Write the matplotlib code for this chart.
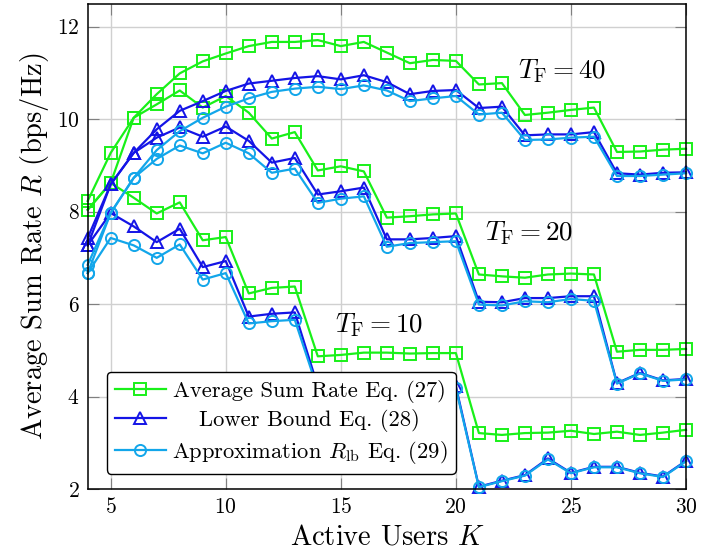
import matplotlib
matplotlib.use("Agg")
import matplotlib.pyplot as plt

plt.rcParams['font.family'] = ['cmr10', 'DejaVu Serif']
plt.rcParams['mathtext.fontset'] = 'cm'
plt.rcParams['axes.formatter.use_mathtext'] = True

K = list(range(4, 31))

# T_F = 40
avg_40 = [8.23, 9.27, 10.03, 10.54, 10.99, 11.25, 11.42, 11.58, 11.67, 11.67, 11.71, 11.58, 11.67, 11.44,
          11.21, 11.28, 11.26, 10.75, 10.78, 10.09, 10.14, 10.20, 10.25, 9.29, 9.30, 9.34, 9.36]
lb_40 = [7.43, 8.59, 9.27, 9.78, 10.18, 10.39, 10.61, 10.77, 10.83, 10.89, 10.93, 10.86, 10.95, 10.80,
         10.54, 10.61, 10.63, 10.24, 10.27, 9.65, 9.67, 9.67, 9.72, 8.83, 8.80, 8.84, 8.85]
apx_40 = [6.85, 7.97, 8.73, 9.33, 9.74, 10.03, 10.27, 10.45, 10.59, 10.66, 10.70, 10.65, 10.73, 10.62,
          10.39, 10.45, 10.50, 10.10, 10.14, 9.55, 9.56, 9.60, 9.62, 8.77, 8.77, 8.80, 8.83]

# T_F = 20
avg_20 = [8.04, 8.62, 10.03, 10.32, 10.62, 10.25, 10.50, 10.14, 9.58, 9.72, 8.89, 8.98, 8.87, 7.87,
          7.90, 7.94, 7.96, 6.64, 6.60, 6.57, 6.64, 6.66, 6.64, 4.97, 5.01, 5.01, 5.03]
lb_20 = [7.27, 8.59, 9.27, 9.60, 9.82, 9.62, 9.84, 9.53, 9.06, 9.16, 8.37, 8.44, 8.52, 7.40,
         7.40, 7.43, 7.47, 6.05, 6.04, 6.13, 6.13, 6.17, 6.17, 4.29, 4.51, 4.35, 4.38]
apx_20 = [6.67, 7.97, 8.73, 9.14, 9.43, 9.26, 9.49, 9.26, 8.84, 8.93, 8.19, 8.28, 8.33, 7.24,
          7.32, 7.34, 7.36, 5.99, 5.97, 6.06, 6.04, 6.11, 6.07, 4.28, 4.50, 4.34, 4.37]

# T_F = 10
avg_10 = [8.04, 8.62, 8.30, 7.96, 8.20, 7.38, 7.45, 6.23, 6.35, 6.38, 4.87, 4.90, 4.95, 4.95,
          4.93, 4.94, 4.94, 3.21, 3.17, 3.21, 3.22, 3.26, 3.19, 3.24, 3.17, 3.22, 3.28]
lb_10 = [7.27, 7.97, 7.68, 7.34, 7.63, 6.80, 6.93, 5.73, 5.79, 5.82, 4.22, 4.25, 4.28, 4.26,
         4.24, 4.25, 4.22, 2.05, 2.18, 2.30, 2.66, 2.35, 2.48, 2.48, 2.35, 2.27, 2.61]
apx_10 = [6.67, 7.43, 7.27, 7.00, 7.29, 6.53, 6.67, 5.58, 5.63, 5.66, 4.15, 4.18, 4.22, 4.20,
          4.18, 4.19, 4.18, 2.04, 2.17, 2.29, 2.64, 2.34, 2.47, 2.47, 2.34, 2.26, 2.60]

labels = ["Average Sum Rate Eq. (27)", "Lower Bound Eq. (28)", r"Approximation $R_{\mathrm{lb}}$ Eq. (29)"]
tf_labels = [r"$T_{\mathrm{F}} = 40$", r"$T_{\mathrm{F}} = 20$", r"$T_{\mathrm{F}} = 10$"]
xticks = [5, 10, 15, 20, 25, 30]
yticks = [2, 4, 6, 8, 10, 12]

c_avg = '#19f019'
c_lb = '#1414e6'
c_apx = '#12a6ea'

fig = plt.figure(figsize=(7.27, 5.59), dpi=100)
ax = fig.add_axes([0.1206, 0.1252, 0.8230, 0.8676])

groups = [(avg_10, lb_10, apx_10), (avg_20, lb_20, apx_20), (avg_40, lb_40, apx_40)]
handles = None
for avg, lb, apx in groups:
    h1, = ax.plot(K, avg, color=c_avg, lw=1.6, marker='s', ms=8.5, mfc='none', mew=1.4, zorder=3, clip_on=False)
    h2, = ax.plot(K, lb, color=c_lb, lw=1.6, marker='^', ms=8.5, mfc='none', mew=1.4, zorder=3, clip_on=False)
    h3, = ax.plot(K, apx, color=c_apx, lw=1.6, marker='o', ms=8, mfc='none', mew=1.4, zorder=3, clip_on=False)
    handles = [h1, h2, h3]

ax.set_xlim(4, 30)
ax.set_ylim(2, 12.49)
ax.set_xticks(xticks)
ax.set_yticks(yticks)
ax.grid(True, color='#d0d0d0', lw=1.0)
ax.set_axisbelow(True)
ax.tick_params(direction='in', length=8, width=0.8, color='#808080', top=True, right=True,
               labelsize=15.5, pad=6)
for s in ax.spines.values():
    s.set_linewidth(1.1)
    s.set_color('black')
    s.set_zorder(4)

ax.set_xlabel(r"Active Users $K$", fontsize=20.5, labelpad=5)
ax.set_ylabel(r"Average Sum Rate $R$ (bps/Hz)", fontsize=20.5, labelpad=4)

ax.text(24.63, 10.88, tf_labels[0], fontsize=19.5, ha='center', va='baseline')
ax.text(23.17, 7.38, tf_labels[1], fontsize=19.5, ha='center', va='baseline')
ax.text(16.66, 5.39, tf_labels[2], fontsize=19.5, ha='center', va='baseline')

leg = ax.legend(handles, labels, loc='lower left', bbox_to_anchor=(0.0318, 0.031), borderaxespad=0,
                fontsize=16.2, frameon=True, fancybox=True, edgecolor='black', framealpha=1,
                handlelength=2.3, handletextpad=0.25, labelspacing=0.3, borderpad=0.35)
leg.get_frame().set_linewidth(1.0)
leg.set_zorder(6)

fig.canvas.draw()
r = fig.canvas.get_renderer()
widths = [t.get_window_extent(r).width for t in leg.get_texts()]
mw = max(widths)
for t, w in zip(leg.get_texts(), widths):
    t.set_x((mw - w) / 2)

fig.savefig('out.png', dpi=100)
